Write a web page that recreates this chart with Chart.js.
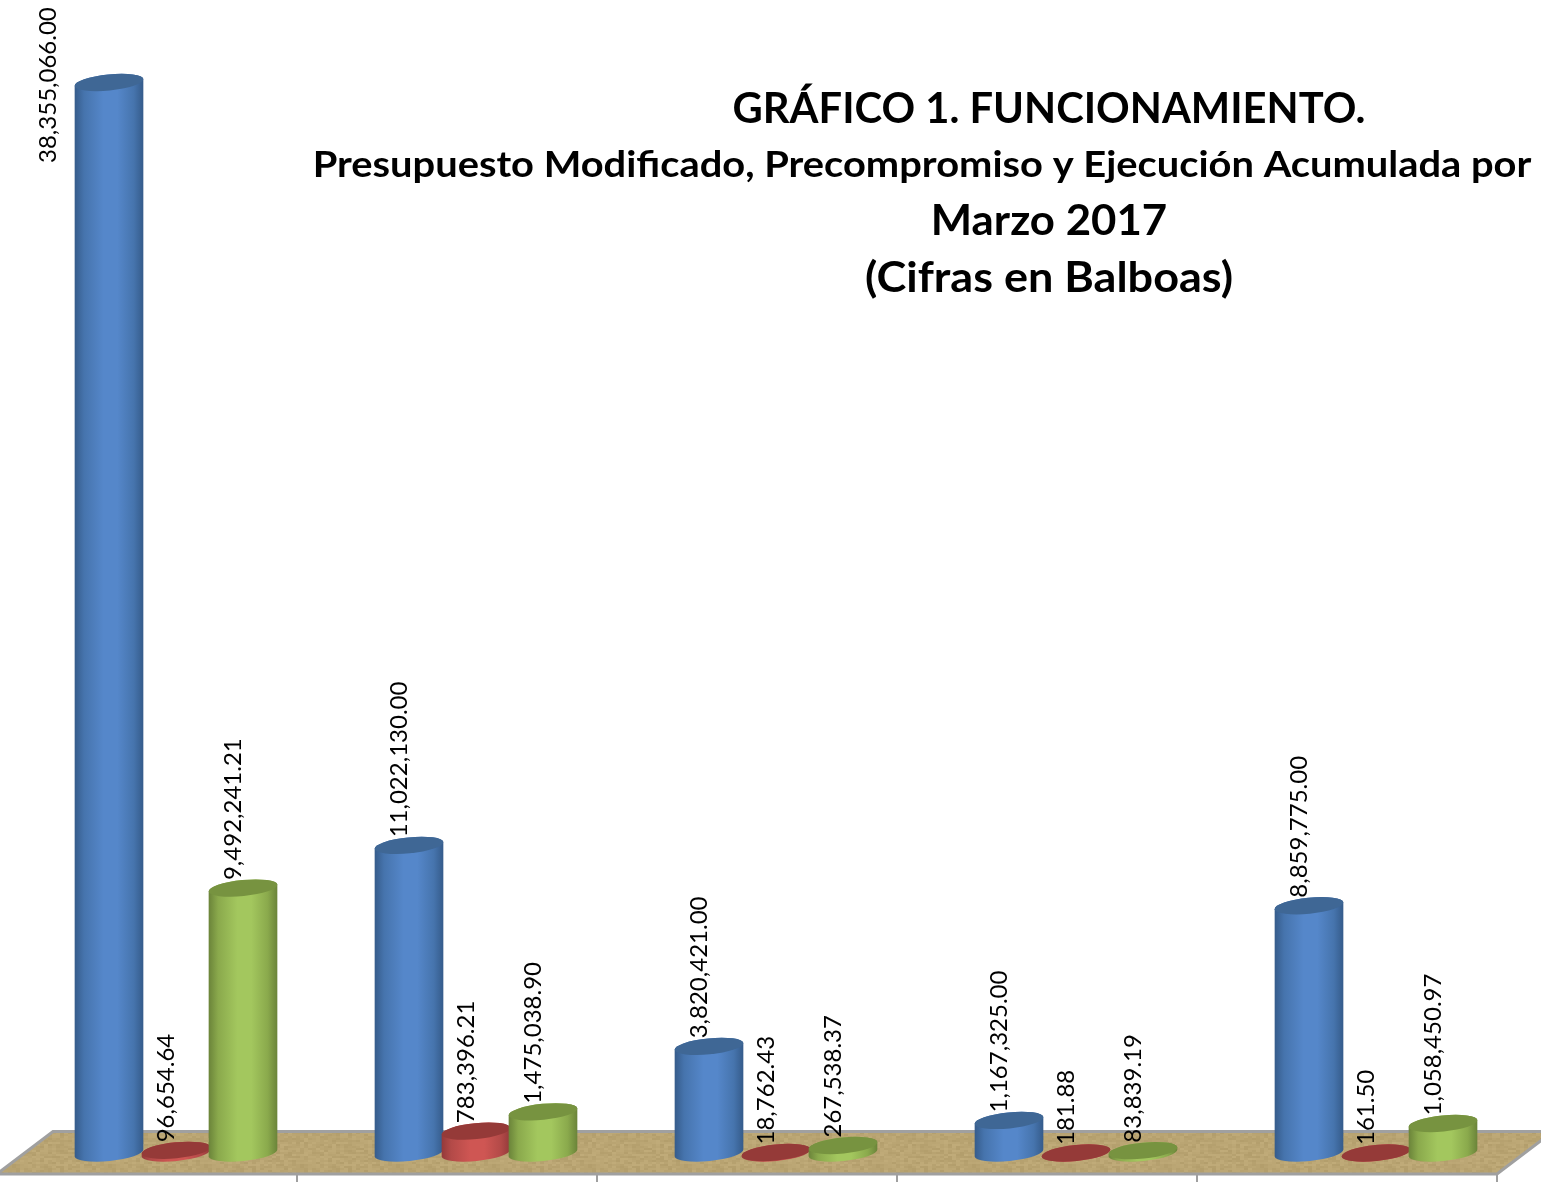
<!DOCTYPE html>
<html lang="es">
<head>
<meta charset="utf-8">
<title>Gráfico 1. Funcionamiento</title>
<script src="https://cdn.jsdelivr.net/npm/chart.js@4"></script>
<style>
  html, body { margin: 0; padding: 0; background: #fff; overflow: hidden; }
  canvas { display: block; }
</style>
</head>
<body>
<canvas id="chart" width="1541" height="1187"></canvas>
<script>
const categories = ["Grupo 1", "Grupo 2", "Grupo 3", "Grupo 4", "Grupo 5"];
const presupuesto = [38355066.00, 11022130.00, 3820421.00, 1167325.00, 8859775.00];
const precompromiso = [96654.64, 783396.21, 18762.43, 181.88, 161.50];
const ejecucion = [9492241.21, 1475038.90, 267538.37, 83839.19, 1058450.97];
const titleLines = [
  "GRÁFICO 1. FUNCIONAMIENTO.",
  "Presupuesto Modificado, Precompromiso y Ejecución Acumulada por",
  "Marzo 2017",
  "(Cifras en Balboas)"
];

const titleStyle = [
  {size: 41.7, stretch: 1, x: 1049, y: 110},
  {size: 35.6, stretch: 1.12, x: 922, y: 166},
  {size: 41.7, stretch: 1.05, x: 1049, y: 222},
  {size: 41.7, stretch: 1.08, x: 1049, y: 279}
];

const tones = [
  {edge: "#355b8a", side: "#4674ad", mid: "#5587ca", top: "#3f6795"},
  {edge: "#93393a", side: "#b34a48", mid: "#cf5653", top: "#953a38"},
  {edge: "#6a8339", side: "#8aa94c", mid: "#a3c75e", top: "#779340"}
];

const fmt = new Intl.NumberFormat("en-US", {minimumFractionDigits: 2, maximumFractionDigits: 2});

function floorTexture(ctx) {
  const tile = document.createElement("canvas");
  tile.width = 96;
  tile.height = 36;
  const t = tile.getContext("2d");
  for (let y = 0; y < 36; y += 2) {
    for (let x = 0; x < 96; x += 4) {
      const n = Math.sin(x * 12.9898 + y * 78.233) * 43758.5453;
      const shade = Math.floor((n - Math.floor(n)) * 14) - 7;
      t.fillStyle = `rgb(${186 + shade},${165 + shade},${115 + shade})`;
      t.fillRect(x, y, 4, 2);
    }
  }
  return ctx.createPattern(tile, "repeat");
}

const floorPlugin = {
  id: "floor",
  beforeDatasetsDraw(chart) {
    const {ctx, scales: {x}} = chart;
    const left = x.left - 29;
    const step = x.width / categories.length;
    const right = left + step * categories.length;
    ctx.save();
    ctx.beginPath();
    ctx.moveTo(left, 1174);
    ctx.lineTo(left + 56, 1131.5);
    ctx.lineTo(right + 56, 1131.5);
    ctx.lineTo(right, 1174);
    ctx.closePath();
    ctx.fillStyle = floorTexture(ctx);
    ctx.fill();
    ctx.lineWidth = 3;
    ctx.strokeStyle = "#a0a0a0";
    ctx.stroke();
    ctx.lineWidth = 2;
    categories.forEach((_, i) => {
      const tx = Math.round(left + step * (i + 1));
      ctx.beginPath();
      ctx.moveTo(tx, 1174);
      ctx.lineTo(tx, 1182);
      ctx.stroke();
    });
    ctx.restore();
  }
};

const cylinderPlugin = {
  id: "cylinders",
  afterDatasetsDraw(chart) {
    const {ctx} = chart;
    const tilt = -0.1;
    chart.data.datasets.forEach((set, s) => {
      const tone = tones[s];
      chart.getDatasetMeta(s).data.forEach(bar => {
        const a = bar.width / 2;
        const b = 8;
        const grad = ctx.createLinearGradient(bar.x - a, 0, bar.x + a, 0);
        grad.addColorStop(0, tone.edge);
        grad.addColorStop(0.14, tone.side);
        grad.addColorStop(0.42, tone.mid);
        grad.addColorStop(0.62, tone.mid);
        grad.addColorStop(0.86, tone.side);
        grad.addColorStop(1, tone.edge);
        ctx.save();
        ctx.beginPath();
        ctx.ellipse(bar.x, bar.base, a, b, tilt, 0, Math.PI);
        ctx.ellipse(bar.x, bar.y, a, b, tilt, Math.PI, Math.PI * 2);
        ctx.closePath();
        ctx.fillStyle = grad;
        ctx.fill();
        ctx.beginPath();
        ctx.ellipse(bar.x, bar.y, a, b, tilt, 0, Math.PI * 2);
        ctx.fillStyle = tone.top;
        ctx.fill();
        ctx.restore();
      });
    });
  }
};

const labelPlugin = {
  id: "valueLabels",
  afterDraw(chart) {
    const {ctx} = chart;
    ctx.save();
    ctx.fillStyle = "#000";
    ctx.textBaseline = "middle";
    chart.data.datasets.forEach((set, s) => {
      chart.getDatasetMeta(s).data.forEach((bar, i) => {
        const text = fmt.format(set.data[i]);
        ctx.font = "24px Lato";
        let lx = bar.x - 10;
        let ly = bar.y - 8;
        // the tallest label does not fit above its bar, it sits beside it
        if (ly - ctx.measureText(text).width < 0) {
          lx = bar.x - 61;
          ly = 163;
        }
        ctx.save();
        ctx.translate(lx, ly);
        ctx.rotate(-Math.PI / 2);
        ctx.textAlign = "left";
        ctx.fillText(text, 0, 0);
        ctx.restore();
      });
    });
    ctx.textAlign = "center";
    titleLines.forEach((line, i) => {
      const style = titleStyle[i];
      ctx.save();
      ctx.font = `bold ${style.size}px Lato`;
      ctx.translate(style.x, style.y);
      ctx.scale(style.stretch, 1);
      ctx.fillText(line, 0, 0);
      ctx.restore();
    });
    ctx.restore();
  }
};

new Chart(document.getElementById("chart"), {
  type: "bar",
  data: {
    labels: categories,
    datasets: [
      {label: "Presupuesto Modificado", data: presupuesto, backgroundColor: "transparent"},
      {label: "Precompromiso", data: precompromiso, backgroundColor: "transparent"},
      {label: "Ejecución Acumulada", data: ejecucion, backgroundColor: "transparent"}
    ]
  },
  options: {
    responsive: false,
    animation: false,
    layout: {padding: {left: 26, right: 15, top: 0, bottom: 34}},
    categoryPercentage: 0.67,
    barPercentage: 1.03,
    plugins: {legend: {display: false}, title: {display: false}, tooltip: {enabled: false}},
    scales: {
      x: {display: false},
      y: {display: false, min: 0, max: 41310000}
    }
  },
  plugins: [floorPlugin, cylinderPlugin, labelPlugin]
});
</script>
</body>
</html>
